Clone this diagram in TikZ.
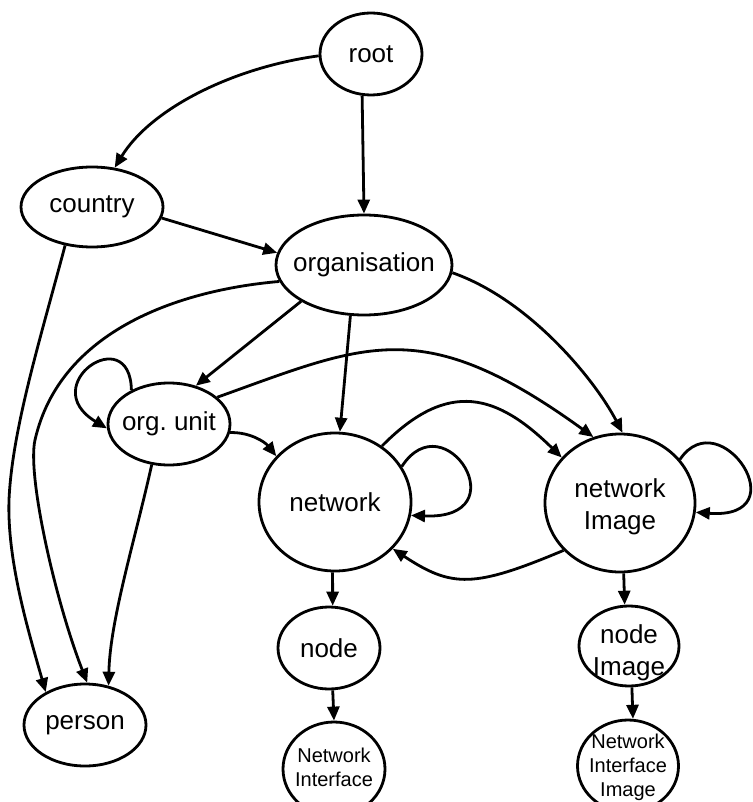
\documentclass[tikz,border=0pt]{standalone}
\usepackage{fontspec}
\setmainfont{Liberation Sans}
\usetikzlibrary{arrows.meta,shapes.geometric}
\begin{document}
\frenchspacing
\begin{tikzpicture}[x=1pt,y=-1pt,
  ell/.style={draw, line width=2.8pt, ellipse, inner sep=0pt},
  big/.style={font=\fontsize{26}{32}\selectfont, align=center, inner sep=0pt},
  small/.style={font=\fontsize{20}{24}\selectfont, align=center, inner sep=0pt},
  edge/.style={line width=2.8pt, -{Triangle[length=14pt,width=12pt]}},
]
\useasboundingbox (0,0) rectangle (752,802);
% ellipses
\node[ell, minimum width=102pt, minimum height=82pt] (root) at (371,54) {};
\node[ell, minimum width=142pt, minimum height=80pt] (country) at (92,207) {};
\node[ell, minimum width=176pt, minimum height=100pt] (org) at (364,265) {};
\node[ell, minimum width=122pt, minimum height=82pt] (ou) at (169,424) {};
\node[ell, minimum width=152pt, minimum height=138pt] (net) at (335,502) {};
\node[ell, minimum width=150pt, minimum height=138pt] (ni) at (620,503) {};
\node[ell, minimum width=102pt, minimum height=82pt] (nd) at (329,648) {};
\node[ell, minimum width=100pt, minimum height=80pt] (ndi) at (629,646) {};
\node[ell, minimum width=102pt, minimum height=94pt] (nif) at (334,769) {};
\node[ell, minimum width=101pt, minimum height=92pt] (nifi) at (628,766) {};
\node[ell, minimum width=122pt, minimum height=82pt] (person) at (85,725) {};
% texts
\node[big] (t1) at (root.center) {root};
\node[big] (t2) at (country.center) {country};
\node[big] (t3) at (org.center) {organisation};
\node[big] (t4) at (ou.center) {org.\ unit};
\node[big] (t5) at (net.center) {network};
\node[big] (t6) at ([yshift=-4pt]ni.center) {network\\Image};
\node[big] (t7) at (nd.center) {node};
\node[big] (t8) at ([yshift=-7pt]ndi.center) {node\\Image};
\node[small] (t9) at ([yshift=2pt]nif.center) {Network\\Interface};
\node[small] (t10) at ([yshift=-1pt]nifi.center) {Network\\Interface\\Image};
\node[big] (t11) at (person.center) {person};
% edges
\draw[edge] (root.182) .. controls (230,68) and (150,110) .. (country.60);
\draw[edge] (root.258) -- (org.90);
\draw[edge] (country.351) -- (org.172);
\draw[edge] (country.235) .. controls (40,340) and (12,430) .. (9,500)
  .. controls (7,560) and (28,630) .. (person.140);
\draw[edge] (org.191) .. controls (180,290) and (60,330) .. (35,440)
  .. controls (27,475) and (55,600) .. (person.87);
\draw[edge] (ou.247) .. controls (135,540) and (110,620) .. (person.59);
\draw[edge] (org.210) -- (ou.55);
\draw[edge] (org.255) -- (net.86);
\draw[edge] (org.355) .. controls (530,300) and (595,380) .. (ni.88);
\draw[edge] (ou.138) .. controls (130,320) and (35,385) .. (ou.184);
\draw[edge] (ou.29) .. controls (366,344) and (422,313) .. (ni.112);
\draw[edge] (ou.352) .. controls (250,432) and (265,442) .. (net.142);
\draw[edge] (net.50) .. controls (449,378) and (498,395) .. (ni.142);
\draw[edge] (net.28) .. controls (445,400) and (520,520) .. (net.350);
\draw[edge] (ni.220) .. controls (474,588) and (452,588) .. (net.321);
\draw[edge] (ni.36) .. controls (720,400) and (800,520) .. (ni.353);
\draw[edge] (net.268) -- (nd.85);
\draw[edge] (ni.273) -- (ndi.96);
\draw[edge] (nd.275) -- (nif.90);
\draw[edge] (ndi.274) -- (nifi.84);
\end{tikzpicture}
\end{document}
